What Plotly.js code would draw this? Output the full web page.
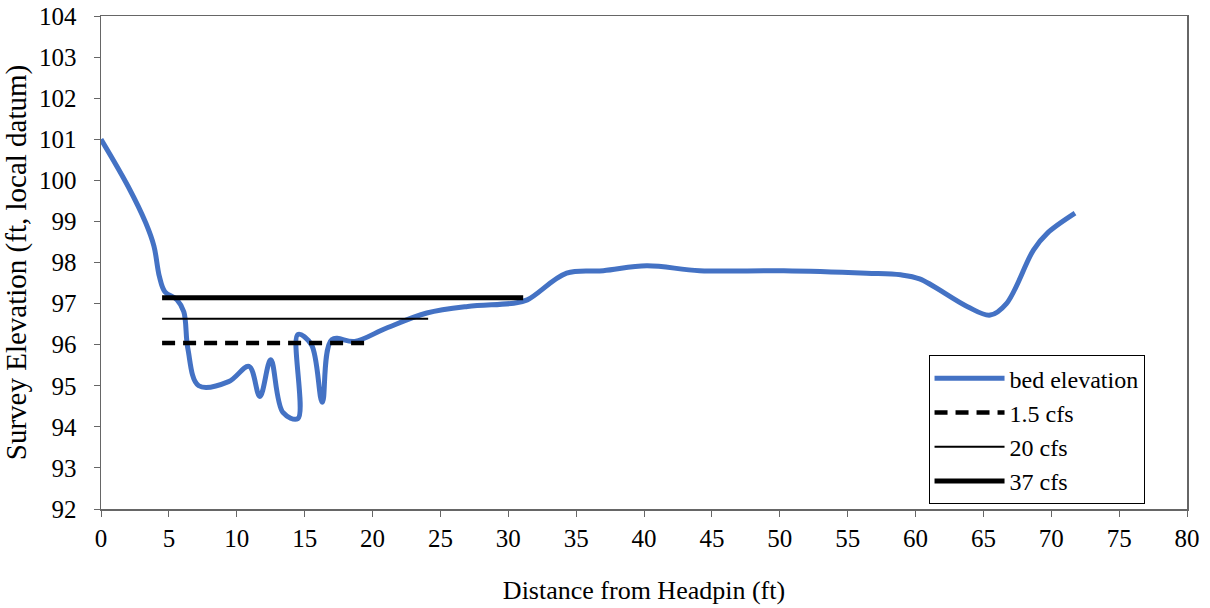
<!DOCTYPE html>
<html>
<head>
<meta charset="utf-8">
<script src="https://cdn.plot.ly/plotly-3.0.1.min.js"></script>
<style>html,body{margin:0;padding:0;background:#fff;}#chart{width:1210px;height:608px;}</style>
</head>
<body>
<div id="chart"></div>
<script>
// Bed elevation profile
const bedX = [0, 2.0, 3.3, 3.9, 4.3, 4.7, 5.6, 6.1, 6.4, 7.2, 9.4, 10.9, 11.7, 12.5, 13.4, 14.5, 14.5, 15.5, 16.3, 17.0, 18.7, 21.0, 24.0, 27.0, 30.4, 31.4, 34.3, 37.0, 40.2, 44.1, 50.3, 56.4, 58.9, 60.3, 63.8, 65.5, 66.7, 68.7, 69.7, 71.75];
const bedY = [101.0, 99.85, 98.96, 98.4, 97.66, 97.29, 97.09, 96.8, 95.9, 95.0, 95.1, 95.47, 94.74, 95.63, 94.35, 94.2, 96.25, 96.0, 94.6, 96.12, 96.08, 96.4, 96.77, 96.93, 97.01, 97.09, 97.74, 97.8, 97.92, 97.8, 97.8, 97.74, 97.7, 97.6, 96.93, 96.72, 97.0, 98.31, 98.71, 99.2];

// Water surface lines
const q15X = [4.5, 19.6];
const q15Y = [96.04, 96.04];
const q20X = [4.5, 24.1];
const q20Y = [96.63, 96.63];
const q37X = [4.5, 31.1];
const q37Y = [97.14, 97.14];

const seriesNames = ["bed elevation", "1.5 cfs", "20 cfs", "37 cfs"];
const xTicks = [0,5,10,15,20,25,30,35,40,45,50,55,60,65,70,75,80];
const yTicks = [92,93,94,95,96,97,98,99,100,101,102,103,104];

const fam = "Liberation Serif, Times New Roman, serif";
const tickFont = {family: fam, size: 25, color: "#000"};
const xTitleFont = {family: fam, size: 26, color: "#000"};
const yTitleFont = {family: fam, size: 29, color: "#000"};
const legendFont = {family: fam, size: 24, color: "#000"};

const traces = [
  {x: bedX, y: bedY, name: seriesNames[0], mode: "lines", line: {color: "#4472C4", width: 5, shape: "spline", smoothing: 1}},
  {x: q15X, y: q15Y, name: seriesNames[1], mode: "lines", line: {color: "#000", width: 4.5, dash: "13px,8px"}},
  {x: q20X, y: q20Y, name: seriesNames[2], mode: "lines", line: {color: "#000", width: 2}},
  {x: q37X, y: q37Y, name: seriesNames[3], mode: "lines", line: {color: "#000", width: 5}}
];

const layout = {
  width: 1210, height: 608,
  margin: {l: 101, r: 23, t: 16, b: 99},
  paper_bgcolor: "#fff", plot_bgcolor: "#fff",
  font: tickFont,
  showlegend: true,
  legend: {
    x: 0.762, y: 0.312, xanchor: "left", yanchor: "top",
    bordercolor: "#000", borderwidth: 1, bgcolor: "#fff",
    font: legendFont, tracegroupgap: 0, itemwidth: 70, entrywidth: 160
  },
  xaxis: {
    range: [0, 80], tickvals: xTicks, ticktext: xTicks.map(String),
    showgrid: false, zeroline: false, showline: true, linecolor: "#666", linewidth: 1.5, mirror: true,
    ticks: "outside", ticklen: 6, tickcolor: "#666",
    tickfont: tickFont, automargin: false,
    title: {text: "Distance from Headpin (ft)", font: xTitleFont, standoff: 30}
  },
  yaxis: {
    range: [92, 104], tickvals: yTicks, ticktext: yTicks.map(String),
    showgrid: false, zeroline: false, showline: true, linecolor: "#666", linewidth: 1.5, mirror: true,
    ticks: "outside", ticklen: 6, tickcolor: "#666", ticklabelstandoff: 12,
    tickfont: tickFont, automargin: false,
    title: {text: "Survey Elevation (ft, local datum)", font: yTitleFont, standoff: 5}
  }
};

Plotly.newPlot("chart", traces, layout, {displayModeBar: false, staticPlot: true});
</script>
</body>
</html>
